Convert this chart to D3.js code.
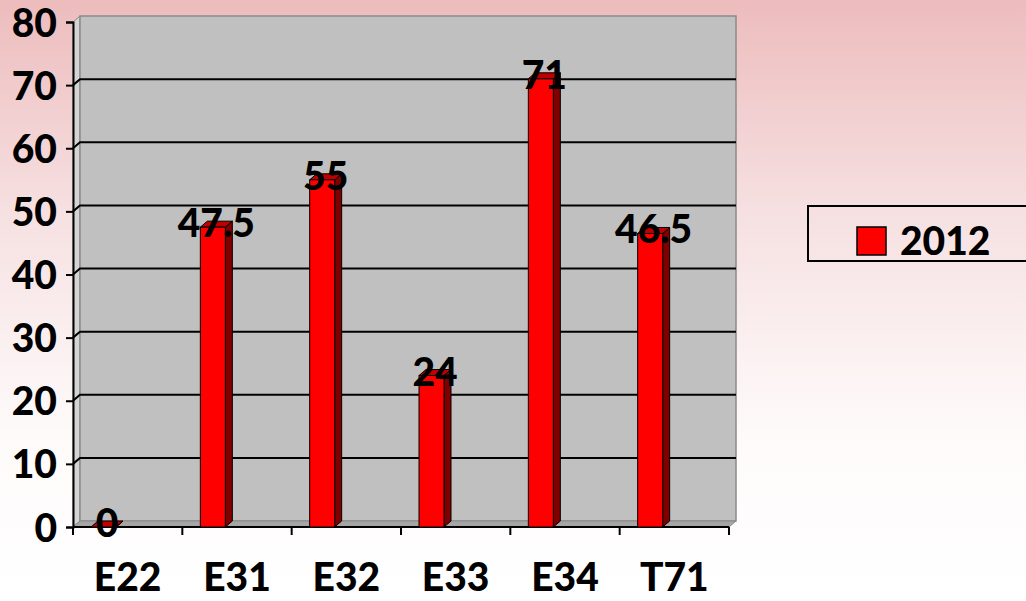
<!DOCTYPE html>
<html>
<head>
<meta charset="utf-8">
<script src="https://cdn.jsdelivr.net/npm/d3@7"></script>
<style>
  html, body { margin: 0; padding: 0; }
  svg { display: block; font-family: Lato, "Open Sans", sans-serif; font-weight: 900; }
</style>
</head>
<body>
<div id="grafico"></div>
<script>
// dados do grafico
const categorias = ["E22", "E31", "E32", "E33", "E34", "T71"];
const valores2012 = [0, 47.5, 55, 24, 71, 46.5];
const ticksY = [0, 10, 20, 30, 40, 50, 60, 70, 80];
const serieNome = "2012";

const width = 1026;
const height = 601;
const fonte = 39;

// profundidade do efeito 3D
const dx = 7;
const dy = -6;

const svg = d3
  .select("#grafico")
  .append("svg")
  .attr("width", width)
  .attr("height", height);

// fundo em degrade rosa -> branco
const defs = svg.append("defs");
const grad = defs
  .append("linearGradient")
  .attr("id", "fundo")
  .attr("x1", 0).attr("y1", 0).attr("x2", 0).attr("y2", 1);
grad.append("stop").attr("offset", "0%").attr("stop-color", "#edbcbd");
grad.append("stop").attr("offset", "35%").attr("stop-color", "#f6e0e1");
grad.append("stop").attr("offset", "72%").attr("stop-color", "#fefafa");
grad.append("stop").attr("offset", "100%").attr("stop-color", "#ffffff");

svg.append("rect")
  .attr("width", width)
  .attr("height", height)
  .attr("fill", "url(#fundo)");

const xScale = d3.scaleBand().domain(categorias).range([73, 729]);
const yScale = d3.scaleLinear().domain([0, 80]).range([527, 22]);

const x0 = xScale.range()[0];
const x1 = xScale.range()[1];
const yBase = yScale(0);
const yTop = yScale(80);

// parede lateral esquerda
svg.append("path")
  .attr("d", `M${x0},${yBase} L${x0},${yTop} L${x0 + dx},${yTop + dy} L${x0 + dx},${yBase + dy} Z`)
  .attr("fill", "#d4d4d4")
  .attr("stroke", "#8a8a8a")
  .attr("stroke-width", 1);

// parede de fundo
svg.append("rect")
  .attr("x", x0 + dx)
  .attr("y", yTop + dy)
  .attr("width", x1 - x0)
  .attr("height", yBase - yTop)
  .attr("fill", "#c0c0c0")
  .attr("stroke", "#8a8a8a")
  .attr("stroke-width", 1.5);

// piso
svg.append("path")
  .attr("d", `M${x0},${yBase} L${x0 + dx},${yBase + dy} L${x1 + dx},${yBase + dy} L${x1},${yBase} Z`)
  .attr("fill", "#a6a6a6")
  .attr("stroke", "#8a8a8a")
  .attr("stroke-width", 1);

// linhas de grade
ticksY.filter((t) => t > 0 && t < 80).forEach((t) => {
  const y = yScale(t);
  svg.append("path")
    .attr("d", `M${x0},${y} L${x0 + dx},${y + dy} L${x1 + dx},${y + dy}`)
    .attr("fill", "none")
    .attr("stroke", "#000")
    .attr("stroke-width", 2);
});

// eixo Y
const yAxis = d3.axisLeft(yScale).tickValues(ticksY).tickSize(7).tickPadding(9);
const gY = svg.append("g").attr("transform", `translate(${x0},0)`).call(yAxis);
gY.select(".domain").attr("stroke", "#000").attr("stroke-width", 2);
gY.selectAll(".tick line").attr("stroke", "#000").attr("stroke-width", 2);
gY.selectAll(".tick text")
  .attr("font-size", fonte)
  .attr("font-weight", 900)
  .attr("fill", "#000")
  .attr("font-family", "Lato, sans-serif")
  .attr("dy", "0.36em");

// eixo X
const limites = categorias.map((c) => xScale(c)).concat([x1]);
svg.append("line")
  .attr("x1", x0).attr("x2", x1)
  .attr("y1", yBase).attr("y2", yBase)
  .attr("stroke", "#000")
  .attr("stroke-width", 2);
svg.selectAll(".tickx")
  .data(limites)
  .enter()
  .append("line")
  .attr("class", "tickx")
  .attr("x1", (d) => d).attr("x2", (d) => d)
  .attr("y1", yBase).attr("y2", yBase + 8)
  .attr("stroke", "#000")
  .attr("stroke-width", 2);

svg.selectAll(".rotulox")
  .data(categorias)
  .enter()
  .append("text")
  .attr("class", "rotulox")
  .attr("x", (d) => xScale(d) + xScale.bandwidth() / 2)
  .attr("y", 591)
  .attr("text-anchor", "middle")
  .attr("font-size", fonte)
  .attr("fill", "#000")
  .text((d) => d);

// barras 3D
const barOffset = 18;
const barW = 25;
const barras = svg.selectAll(".barra")
  .data(valores2012.map((v, i) => ({ cat: categorias[i], valor: v })))
  .enter()
  .append("g")
  .attr("class", "barra");

barras.each(function (d) {
  const g = d3.select(this);
  const bx = xScale(d.cat) + barOffset;
  const by = yScale(d.valor);
  const h = yBase - by;
  // lateral
  g.append("path")
    .attr("d", `M${bx + barW},${yBase} L${bx + barW},${by} L${bx + barW + dx},${by + dy} L${bx + barW + dx},${yBase + dy} Z`)
    .attr("fill", "#800000")
    .attr("stroke", "#000")
    .attr("stroke-width", 1);
  // topo
  g.append("path")
    .attr("d", `M${bx},${by} L${bx + dx},${by + dy} L${bx + barW + dx},${by + dy} L${bx + barW},${by} Z`)
    .attr("fill", "#c00000")
    .attr("stroke", "#000")
    .attr("stroke-width", 1);
  // frente
  g.append("rect")
    .attr("x", bx)
    .attr("y", by)
    .attr("width", barW)
    .attr("height", h)
    .attr("fill", "#ff0000")
    .attr("stroke", "#000")
    .attr("stroke-width", 1);
});

// rotulos de dados
barras.append("text")
  .attr("x", (d) => xScale(d.cat) + barOffset + barW / 2 + dx / 2)
  .attr("y", (d) => yScale(d.valor) + 10)
  .attr("text-anchor", "middle")
  .attr("font-size", fonte)
  .attr("fill", "#000")
  .text((d) => d.valor);

// legenda
const legenda = svg.append("g").attr("transform", "translate(808,206)");
legenda.append("rect")
  .attr("width", 240)
  .attr("height", 55)
  .attr("fill", "none")
  .attr("stroke", "#000")
  .attr("stroke-width", 2);
legenda.append("rect")
  .attr("x", 49)
  .attr("y", 21)
  .attr("width", 29)
  .attr("height", 28)
  .attr("fill", "#ff0000")
  .attr("stroke", "#000")
  .attr("stroke-width", 1.5);
legenda.append("text")
  .attr("x", 92)
  .attr("y", 49)
  .attr("font-size", fonte)
  .attr("fill", "#000")
  .text(serieNome);
</script>
</body>
</html>
